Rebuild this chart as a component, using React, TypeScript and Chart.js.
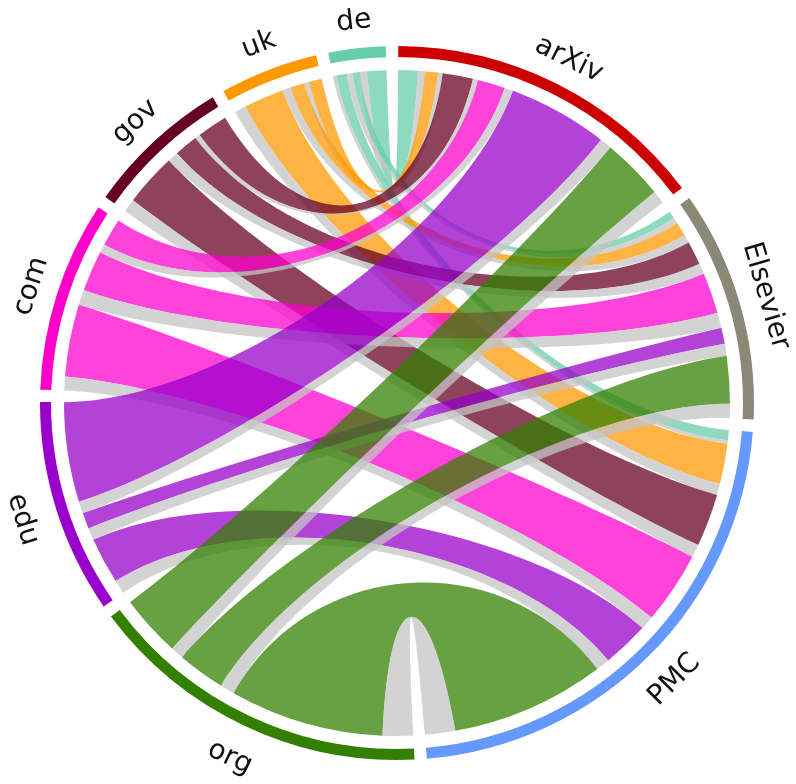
import React, { useEffect, useRef } from 'react';
import { Chart, registerables } from 'chart.js';

Chart.register(...registerables);

// Nodes, clockwise from 12 o'clock
const nodes = ['arXiv', 'Elsevier', 'PMC', 'org', 'edu', 'com', 'gov', 'uk', 'de'];
const nodeColors = ['#cc0000', '#8b8878', '#6699ff', '#338000', '#9900cc', '#ff00cc', '#660022', '#ff9900', '#66ccaa'];

const sources = ['org', 'edu', 'com', 'gov', 'uk', 'de'];
const targets = ['arXiv', 'Elsevier', 'PMC'];

// Flow values per target, indexed like `sources` (coloured part and grey part)
const arxivMain = [10.8, 17.4, 4.8, 5.3, 2.3, 3.4];
const arxivGray = [2.3, 2.1, 1.5, 0.9, 0.8, 1.2];
const elsevierMain = [8.3, 2.8, 7.1, 4.1, 2.5, 1.3];
const elsevierGray = [2.5, 2.1, 2.7, 1.9, 1.4, 1.0];
const pmcMain = [26.9, 8.1, 12.6, 9.2, 7.0, 1.8];
const pmcGray = [5.3, 2.4, 2.4, 2.3, 2.0, 0.6];

const gapDegrees = 2;
const startDegrees = 0.2;
const grayRibbon = 'rgba(196,196,196,0.75)';
const ribbonAlpha = 0.74;

function hexToRgba(hex: string, a: number) {
  const n = parseInt(hex.slice(1), 16);
  return `rgba(${(n >> 16) & 255},${(n >> 8) & 255},${n & 255},${a})`;
}

export default function App() {
  const ref = useRef<HTMLCanvasElement>(null);

  useEffect(() => {
    document.body.style.margin = '0';
    const canvas = ref.current!;
    const mainFlows = [arxivMain, elsevierMain, pmcMain];
    const grayFlows = [arxivGray, elsevierGray, pmcGray];
    const nS = sources.length;
    const nT = targets.length;

    const nodeTotals = nodes.map((name) => {
      const t = targets.indexOf(name);
      if (t >= 0) {
        let sum = 0;
        for (let s = 0; s < nS; s++) sum += mainFlows[t][s] + grayFlows[t][s];
        return sum;
      }
      const s = sources.indexOf(name);
      let sum = 0;
      for (let tt = 0; tt < nT; tt++) sum += mainFlows[tt][s] + grayFlows[tt][s];
      return sum;
    });
    const sumAll = nodeTotals.reduce((a, b) => a + b, 0);
    const gapFrac = gapDegrees / 360;
    const gapVal = (sumAll * gapFrac) / (1 - nodes.length * gapFrac);

    const data: number[] = [];
    const colors: string[] = [];
    const labels: string[] = [];
    nodes.forEach((n, i) => {
      data.push(nodeTotals[i]);
      colors.push(nodeColors[i]);
      labels.push(n);
      data.push(gapVal);
      colors.push('rgba(0,0,0,0)');
      labels.push('');
    });

    const ribbonRadiusRatio = 333 / 357;
    const controlRatio = 0.53;

    const chordPlugin = {
      id: 'chords',
      beforeDatasetsDraw(chart: any) {
        const ctx = chart.ctx as CanvasRenderingContext2D;
        const meta = chart.getDatasetMeta(0);
        const arcs = nodes.map((_, i) => meta.data[2 * i] as any);
        const cx = arcs[0].x;
        const cy = arcs[0].y;
        const R = arcs[0].outerRadius * ribbonRadiusRatio;
        const rc = R * controlRatio;
        const pt = (r: number, a: number) => [cx + r * Math.cos(a), cy + r * Math.sin(a)];
        const cursor = arcs.map((a) => a.startAngle as number);
        const unit = arcs.map((a, i) => (a.endAngle - a.startAngle) / nodeTotals[i]);
        const ends: Record<string, [number, number]> = {};

        targets.forEach((tName, t) => {
          const k = nodes.indexOf(tName);
          for (let s = nS - 1; s >= 0; s--) {
            const a0 = cursor[k];
            cursor[k] += mainFlows[t][s] * unit[k];
            ends[`m-${s}-${t}-T`] = [a0, cursor[k]];
            const b0 = cursor[k];
            cursor[k] += grayFlows[t][s] * unit[k];
            ends[`g-${s}-${t}-T`] = [b0, cursor[k]];
          }
        });
        sources.forEach((sName, s) => {
          const k = nodes.indexOf(sName);
          for (let t = nT - 1; t >= 0; t--) {
            const b0 = cursor[k];
            cursor[k] += grayFlows[t][s] * unit[k];
            ends[`g-${s}-${t}-S`] = [b0, cursor[k]];
            const a0 = cursor[k];
            cursor[k] += mainFlows[t][s] * unit[k];
            ends[`m-${s}-${t}-S`] = [a0, cursor[k]];
          }
        });

        const ribbon = (sa: [number, number], ta: [number, number], fill: string) => {
          ctx.beginPath();
          const p0 = pt(R, sa[0]);
          ctx.moveTo(p0[0], p0[1]);
          ctx.arc(cx, cy, R, sa[0], sa[1]);
          const c1 = pt(rc, sa[1]);
          const c2 = pt(rc, ta[0]);
          const p1 = pt(R, ta[0]);
          ctx.bezierCurveTo(c1[0], c1[1], c2[0], c2[1], p1[0], p1[1]);
          ctx.arc(cx, cy, R, ta[0], ta[1]);
          const d1 = pt(rc, ta[1]);
          const d2 = pt(rc, sa[0]);
          ctx.bezierCurveTo(d1[0], d1[1], d2[0], d2[1], p0[0], p0[1]);
          ctx.closePath();
          ctx.fillStyle = fill;
          ctx.fill();
        };

        ctx.save();
        // draw from the last source (de) to the first (org), so org lies on top
        for (let s = nS - 1; s >= 0; s--) {
          const col = hexToRgba(nodeColors[nodes.indexOf(sources[s])], ribbonAlpha);
          for (let t = 0; t < nT; t++) {
            ribbon(ends[`m-${s}-${t}-S`], ends[`m-${s}-${t}-T`], col);
            ribbon(ends[`g-${s}-${t}-S`], ends[`g-${s}-${t}-T`], grayRibbon);
          }
        }
        ctx.restore();
      },
      afterDatasetsDraw(chart: any) {
        const ctx = chart.ctx as CanvasRenderingContext2D;
        const meta = chart.getDatasetMeta(0);
        nodes.forEach((n, i) => {
          const a = meta.data[2 * i] as any;
          const cx = a.x;
          const cy = a.y;
          const mid = (a.startAngle + a.endAngle) / 2;
          let theta = mid + Math.PI / 2;
          theta = ((theta % (2 * Math.PI)) + 2 * Math.PI) % (2 * Math.PI);
          const flip = theta > Math.PI / 2 && theta < (3 * Math.PI) / 2;
          const r = a.outerRadius * (flip ? 392 / 357 : 384 / 357);
          const x = cx + r * Math.cos(mid);
          const y = cy + r * Math.sin(mid);
          ctx.save();
          ctx.translate(x, y);
          ctx.rotate(flip ? theta - Math.PI : theta);
          ctx.font = '28px "DejaVu Sans"';
          ctx.fillStyle = '#111';
          ctx.textAlign = 'center';
          ctx.textBaseline = 'middle';
          ctx.fillText(n, 0, 0);
          ctx.restore();
        });
      },
    };

    const chart = new Chart(canvas, {
      type: 'doughnut',
      data: {
        labels,
        datasets: [
          {
            data,
            backgroundColor: colors,
            borderWidth: 0,
            hoverOffset: 0,
          },
        ],
      },
      options: {
        responsive: false,
        maintainAspectRatio: false,
        animation: false,
        events: [],
        rotation: startDegrees,
        cutout: `${(346 / 357) * 100}%`,
        layout: { padding: { left: 40, right: 42, top: 46, bottom: 24 } },
        plugins: {
          legend: { display: false },
          tooltip: { enabled: false },
        },
      } as any,
      plugins: [chordPlugin],
    });
    return () => chart.destroy();
  }, []);

  return (
    <div style={{ width: 796, height: 784, background: '#fff' }}>
      <canvas ref={ref} width={796} height={784} style={{ display: 'block' }} />
    </div>
  );
}
